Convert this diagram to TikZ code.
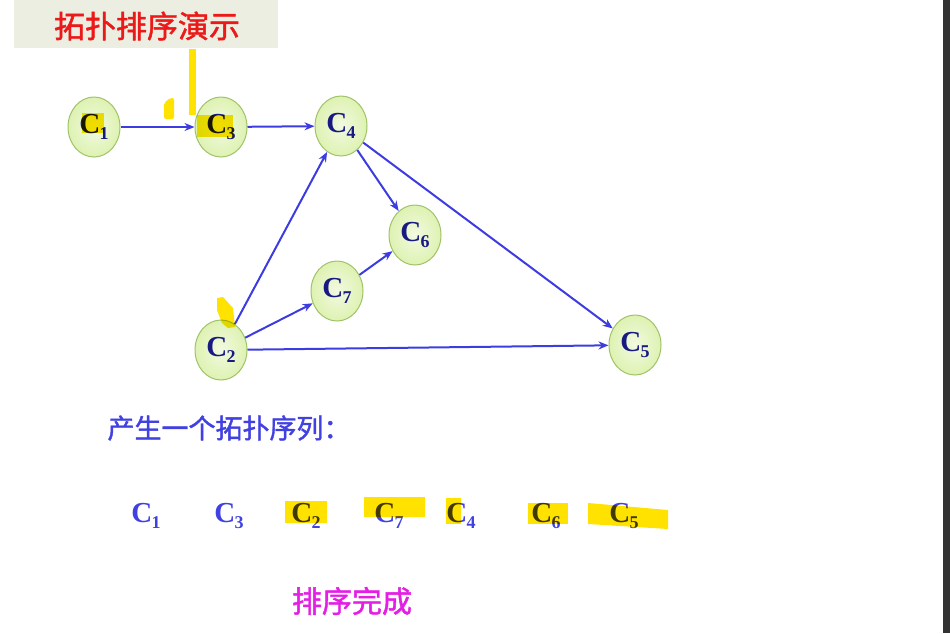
\documentclass[tikz,border=0pt]{standalone}
\usepackage{fontspec}
\setmainfont{Liberation Serif}
\newfontfamily\cjk{Noto Sans CJK SC}[AutoFakeBold=1.5]
\usetikzlibrary{shapes.geometric,arrows.meta}

\definecolor{edgeblue}{RGB}{60,60,225}
\definecolor{labelblue}{RGB}{25,25,130}
\definecolor{seqblue}{RGB}{65,65,225}
\definecolor{ballfill}{RGB}{222,242,178}
\definecolor{balledge}{RGB}{160,195,105}
\definecolor{titlebg}{RGB}{236,238,226}
\definecolor{titlered}{RGB}{235,25,25}
\definecolor{hilite}{RGB}{255,226,0}
\definecolor{doneviolet}{RGB}{228,30,228}

\newcommand{\cname}[1]{{\bfseries C\kern-0.5pt\raisebox{-6pt}{\fontsize{18}{18}\selectfont\bfseries #1}}}

\tikzset{
  course/.style={ellipse, draw=balledge, line width=1pt, inner color=white!60!ballfill,
    outer color=ballfill, minimum width=52pt, minimum height=60pt, inner sep=0pt,
    text=labelblue, font=\fontsize{29}{29}\selectfont\bfseries},
  prereq/.style={draw=edgeblue, line width=2pt, -{Stealth[length=10pt,width=8pt]}},
  seqitem/.style={text=seqblue, font=\fontsize{29}{29}\selectfont\bfseries},
  penmark/.style={fill=hilite, draw=none}
}

\begin{document}
\begin{tikzpicture}[x=1pt,y=-1pt]
  \useasboundingbox (0,0) rectangle (950,633);

  % Draw the title
  \fill[titlebg] (14,0) rectangle (278,48);
  \node[text=titlered, font=\cjk\bfseries\fontsize{31}{31}\selectfont] (title) at (147,26) {拓扑排序演示};

  % Draw the courses
  \node[course] (c1) at (94,127) {\cname{1}};
  \node[course] (c3) at (221,127) {\cname{3}};
  \node[course] (c4) at (341,126) {\cname{4}};
  \node[course] (c6) at (415,235) {\cname{6}};
  \node[course] (c7) at (337,291) {\cname{7}};
  \node[course] (c2) at (221,350) {\cname{2}};
  \node[course] (c5) at (635,345) {\cname{5}};

  % Draw the prerequisites
  \draw[prereq] (c1) -- (c3);
  \draw[prereq] (c3) -- (c4);
  \draw[prereq] (c4) -- (c6);
  \draw[prereq] (c4) -- (c5);
  \draw[prereq] (c2) -- (c4);
  \draw[prereq] (c2) -- (c7);
  \draw[prereq] (c7) -- (c6);
  \draw[prereq] (c2) -- (c5);

  % Draw the caption and the sequence
  \node[anchor=west, text=seqblue, font=\cjk\bfseries\fontsize{27}{27}\selectfont] (caption) at (104,428) {产生一个拓扑序列：};
  \node[seqitem] (s1) at (146,516) {\cname{1}};
  \node[seqitem] (s2) at (229,516) {\cname{3}};
  \node[seqitem] (s3) at (306,516) {\cname{2}};
  \node[seqitem] (s4) at (389,516) {\cname{7}};
  \node[seqitem] (s5) at (461,516) {\cname{4}};
  \node[seqitem] (s6) at (546,516) {\cname{6}};
  \node[seqitem] (s7) at (624,516) {\cname{5}};

  \node[text=doneviolet, font=\cjk\bfseries\fontsize{30}{30}\selectfont] (done) at (352,601) {排序完成};

  % Draw the pen marks
  \begin{scope}[blend mode=multiply]
    \fill[penmark] (189,49) rectangle (196,115);
    \fill[penmark, rounded corners=2pt] (164,103) -- (170,98) -- (174,98) -- (174,119) -- (164,119) -- cycle;
    \fill[penmark] (82,113) rectangle (104,133);
    \fill[penmark] (197,115) rectangle (233,137);
    \fill[penmark] (217,298) -- (223,297) -- (233,308) -- (235,327) -- (228,328) -- (222,323) -- (217,310) -- cycle;
    \fill[penmark] (285,501) rectangle (327,523);
    \fill[penmark] (364,497) rectangle (425,517);
    \fill[penmark] (446,498) rectangle (461,524);
    \fill[penmark] (528,503) rectangle (568,524);
    \fill[penmark] (588,503) -- (668,510) -- (668,529) -- (588,524) -- cycle;
  \end{scope}

  % Draw the window edge
  \fill[black!80] (943,0) rectangle (950,633);
\end{tikzpicture}
\end{document}
